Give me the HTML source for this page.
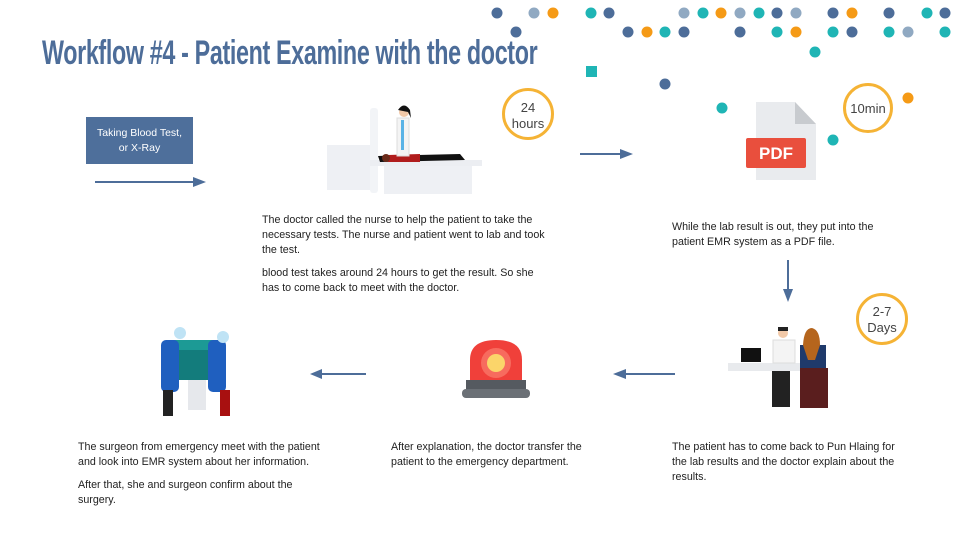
<!DOCTYPE html>
<html><head><meta charset="utf-8"><style>
body{margin:0;width:960px;height:540px;background:#fff;position:relative;overflow:hidden;font-family:"Liberation Sans",sans-serif}
.a{position:absolute}
.t{position:absolute;font-size:10.7px;line-height:15px;color:#222}
.t p{margin:0 0 8px 0}
.title{position:absolute;left:42px;top:34px;font-size:34px;font-weight:bold;color:#4d6d99;white-space:nowrap;transform:scaleX(0.685);transform-origin:left top;letter-spacing:-0.5px}
.circ{position:absolute;border:3px solid #f5b335;border-radius:50%;text-align:center;color:#444;font-size:13px;box-sizing:border-box}
</style></head><body>
<div class="title">Workflow #4 - Patient Examine with the doctor</div>
<svg class="a" style="left:0;top:0" width="960" height="540">
<g id="dots">
<circle cx="497" cy="13" r="5.5" fill="#4d6d99"/><circle cx="534" cy="13" r="5.5" fill="#90a9c2"/><circle cx="553" cy="13" r="5.5" fill="#f59a16"/><circle cx="591" cy="13" r="5.5" fill="#1fb5b5"/><circle cx="609" cy="13" r="5.5" fill="#4d6d99"/><circle cx="684" cy="13" r="5.5" fill="#90a9c2"/><circle cx="703" cy="13" r="5.5" fill="#1fb5b5"/><circle cx="721" cy="13" r="5.5" fill="#f59a16"/><circle cx="740" cy="13" r="5.5" fill="#90a9c2"/><circle cx="759" cy="13" r="5.5" fill="#1fb5b5"/><circle cx="777" cy="13" r="5.5" fill="#4d6d99"/><circle cx="796" cy="13" r="5.5" fill="#90a9c2"/><circle cx="833" cy="13" r="5.5" fill="#4d6d99"/><circle cx="852" cy="13" r="5.5" fill="#f59a16"/><circle cx="889" cy="13" r="5.5" fill="#4d6d99"/><circle cx="927" cy="13" r="5.5" fill="#1fb5b5"/><circle cx="945" cy="13" r="5.5" fill="#4d6d99"/>
<circle cx="516" cy="32" r="5.5" fill="#4d6d99"/><circle cx="628" cy="32" r="5.5" fill="#4d6d99"/><circle cx="647" cy="32" r="5.5" fill="#f59a16"/><circle cx="665" cy="32" r="5.5" fill="#1fb5b5"/><circle cx="684" cy="32" r="5.5" fill="#4d6d99"/><circle cx="740" cy="32" r="5.5" fill="#4d6d99"/><circle cx="777" cy="32" r="5.5" fill="#1fb5b5"/><circle cx="796" cy="32" r="5.5" fill="#f59a16"/><circle cx="833" cy="32" r="5.5" fill="#1fb5b5"/><circle cx="852" cy="32" r="5.5" fill="#4d6d99"/><circle cx="889" cy="32" r="5.5" fill="#1fb5b5"/><circle cx="908" cy="32" r="5.5" fill="#90a9c2"/><circle cx="945" cy="32" r="5.5" fill="#1fb5b5"/>
<circle cx="815" cy="52" r="5.5" fill="#1fb5b5"/><rect x="586" y="66" width="11" height="11" fill="#1fb5b5"/><circle cx="665" cy="84" r="5.5" fill="#4d6d99"/><circle cx="722" cy="108" r="5.5" fill="#1fb5b5"/><circle cx="908" cy="98" r="5.5" fill="#f59a16"/><circle cx="833" cy="140" r="5.5" fill="#1fb5b5"/>
</g>
<g stroke="#4d6d99" stroke-width="2" fill="#4d6d99">
<line x1="95" y1="182" x2="196" y2="182"/><path d="M193 177 L206 182 L193 187Z" stroke="none"/>
<line x1="580" y1="154" x2="622" y2="154"/><path d="M620 149 L633 154 L620 159Z" stroke="none"/>
<line x1="788" y1="260" x2="788" y2="291"/><path d="M783 289 L788 302 L793 289Z" stroke="none"/>
<line x1="366" y1="374" x2="320" y2="374"/><path d="M322 369 L310 374 L322 379Z" stroke="none"/>
<line x1="675" y1="374" x2="624" y2="374"/><path d="M626 369 L613 374 L626 379Z" stroke="none"/>
</g>
<rect x="327" y="145" width="50" height="45" fill="#eef0f4"/>
<rect x="370" y="108" width="8" height="85" rx="3" fill="#f2f4f7"/>
<rect x="370" y="160" width="112" height="6" fill="#eceef2"/>
<rect x="384" y="166" width="88" height="28" fill="#eef0f4"/>
<path d="M378 156 L460 154 L465 160 L380 162Z" fill="#111"/>
<path d="M388 155 L420 154 L420 162 L388 162Z" fill="#b01c1c"/>
<circle cx="386" cy="158" r="4" fill="#6b2b1a"/>
<rect x="397" y="118" width="12" height="38" fill="#f4f4f4" stroke="#ddd"/>
<rect x="401" y="120" width="3" height="30" fill="#5ab3e6"/>
<circle cx="404" cy="112" r="5" fill="#f2c9a8"/><path d="M398 110 Q404 101 410 110 L411 118 L408 112Z" fill="#111"/>
<path d="M756 102 L795 102 L816 124 L816 180 L756 180Z" fill="#e9ebee"/>
<path d="M795 102 L816 124 L795 124Z" fill="#c8cbcf"/>
<rect x="746" y="138" width="60" height="30" rx="2" fill="#e94f3d"/>
<text x="776" y="159" font-family="Liberation Sans" font-weight="bold" font-size="17" fill="#fff" text-anchor="middle">PDF</text>
<rect x="728" y="363" width="92" height="8" fill="#e8eaed"/>
<rect x="741" y="348" width="20" height="14" fill="#111"/>
<rect x="773" y="340" width="22" height="23" fill="#f4f4f4" stroke="#ddd"/>
<circle cx="783" cy="333" r="5" fill="#f2c9a8"/><rect x="778" y="327" width="10" height="4" fill="#222"/>
<rect x="772" y="371" width="18" height="36" fill="#222"/>
<rect x="800" y="345" width="26" height="26" fill="#1f3a6b"/>
<path d="M803 345 Q804 328 812 328 Q820 330 820 345 L815 360 L808 360Z" fill="#b5651d"/>
<rect x="800" y="368" width="28" height="40" fill="#5a1e1e"/>
<path d="M470 380 L470 360 Q470 340 496 340 Q522 340 522 360 L522 380Z" fill="#f0403a"/>
<circle cx="496" cy="363" r="15" fill="#f76b5e"/><circle cx="496" cy="363" r="9" fill="#fbd56a"/>
<rect x="466" y="380" width="60" height="9" fill="#555a60"/>
<rect x="462" y="389" width="68" height="9" rx="4" fill="#6b7076"/>
<rect x="166" y="345" width="55" height="35" fill="#137c7c"/>
<rect x="168" y="340" width="50" height="10" fill="#1c9a95"/>
<rect x="161" y="340" width="18" height="52" rx="5" fill="#1f5fbf"/>
<rect x="208" y="340" width="18" height="52" rx="5" fill="#1f5fbf"/>
<circle cx="180" cy="333" r="6" fill="#bfe3f5"/><circle cx="223" cy="337" r="6" fill="#bfe3f5"/>
<rect x="163" y="390" width="10" height="26" fill="#222"/>
<rect x="220" y="390" width="10" height="26" fill="#a81010"/>
<rect x="188" y="380" width="18" height="30" fill="#e6e8ec"/>
</svg>
<div class="a" style="left:86px;top:117px;width:107px;height:47px;background:#4e6f9b;color:#fff;font-size:10.5px;line-height:15px;text-align:center;padding-top:9px;box-sizing:border-box">Taking Blood Test,<br>or X-Ray</div>
<div class="circ" style="left:502px;top:88px;width:52px;height:52px;padding-top:9px;line-height:16px">24<br>hours</div>
<div class="circ" style="left:843px;top:83px;width:50px;height:50px;padding-top:15px">10min</div>
<div class="circ" style="left:856px;top:293px;width:52px;height:52px;padding-top:8px;line-height:16px">2-7<br>Days</div>
<div class="t" style="left:262px;top:213px;width:290px"><p>The doctor called the nurse to help the patient to take the necessary tests. The nurse and patient went to lab and took the test.</p><p>blood test takes around 24 hours to get the result. So she has to come back to meet with the doctor.</p></div>
<div class="t" style="left:672px;top:220px;width:215px">While the lab result is out, they put into the patient EMR system as a PDF file.</div>
<div class="t" style="left:78px;top:440px;width:252px"><p>The surgeon from emergency meet with the patient and look into EMR system about her information.</p><p>After that, she and surgeon confirm about the surgery.</p></div>
<div class="t" style="left:391px;top:440px;width:202px">After explanation, the doctor transfer the patient to the emergency department.</div>
<div class="t" style="left:672px;top:440px;width:234px">The patient has to come back to Pun Hlaing for the lab results and the doctor explain about the results.</div>
</body></html>
